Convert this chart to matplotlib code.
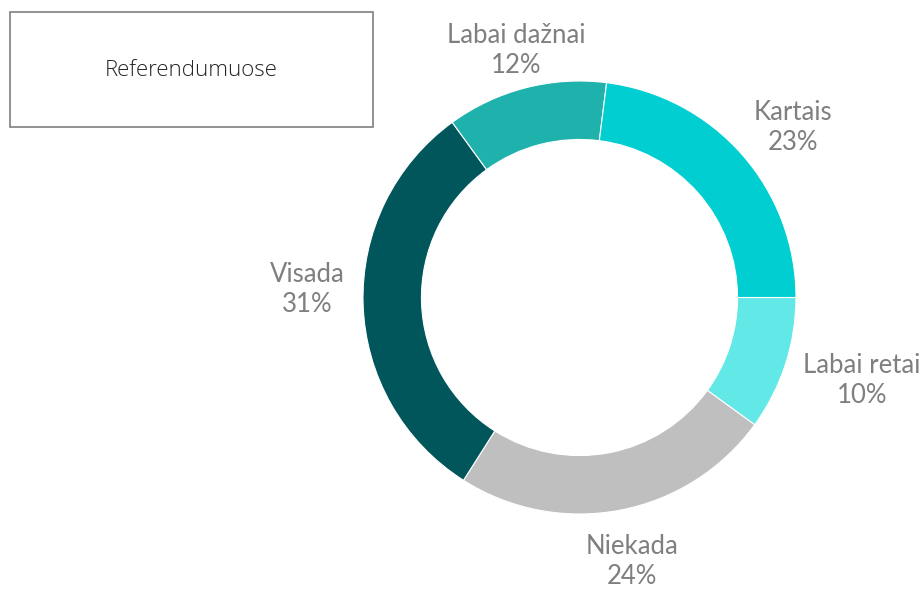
import matplotlib
matplotlib.use("Agg")
import numpy as np
import matplotlib.pyplot as plt
from matplotlib.patches import Rectangle

# data, clockwise from 3 o'clock
categories = ["Labai retai", "Niekada", "Visada", "Labai dažnai", "Kartais"]
shares = [10, 24, 31, 12, 23]
colors = ["#62E8E6", "#BFBFBF", "#00565B", "#1FB2AD", "#00CED1"]
legend_title = "Referendumuose"

W, H = 922, 589
CX, CY, R = 579.5, 297.5, 216.5  # donut centre / radius in pixels (from top-left)

fig = plt.figure(figsize=(W / 100, H / 100), dpi=100)
ax = fig.add_axes([0, 0, 1, 1])

wedges, _ = ax.pie(
    shares,
    colors=colors,
    startangle=0,
    counterclock=False,
    radius=1.0,
    wedgeprops=dict(width=0.27, edgecolor="white", linewidth=0.8),
)

# map one data unit to R pixels so the circle lands where it should
ax.set_aspect("auto")
ax.set_xlim(-CX / R, (W - CX) / R)
ax.set_ylim((CY - H) / R, CY / R)
ax.axis("off")

# labels outside the ring: distance from centre and small angle nudge (deg)
label_dist = [1.36, 1.245, 1.26, 1.18, 1.26]
label_nudge = [1.7, 0.5, -3.4, 0.0, -2.8]
for w, name, pct, d, nd in zip(wedges, categories, shares, label_dist, label_nudge):
    mid = np.deg2rad((w.theta1 + w.theta2) / 2 + nd)
    ax.text(d * np.cos(mid), d * np.sin(mid), f"{name}\n{pct}%",
            ha="center", va="center", fontsize=18.5, color="#7F7F7F",
            family="Lato", linespacing=1.25)

# legend-like box in the top-left corner
box = Rectangle((10 / W, 1 - 127 / H), 363 / W, 115 / H,
                transform=fig.transFigure, fill=False,
                edgecolor="#7F7F7F", linewidth=1.2)
fig.add_artist(box)
fig.text(191 / W, 1 - 71 / H, legend_title, ha="center", va="center",
         fontsize=16, color="#262626", family="Open Sans", fontweight="light")

fig.savefig("out.png", dpi=100)
